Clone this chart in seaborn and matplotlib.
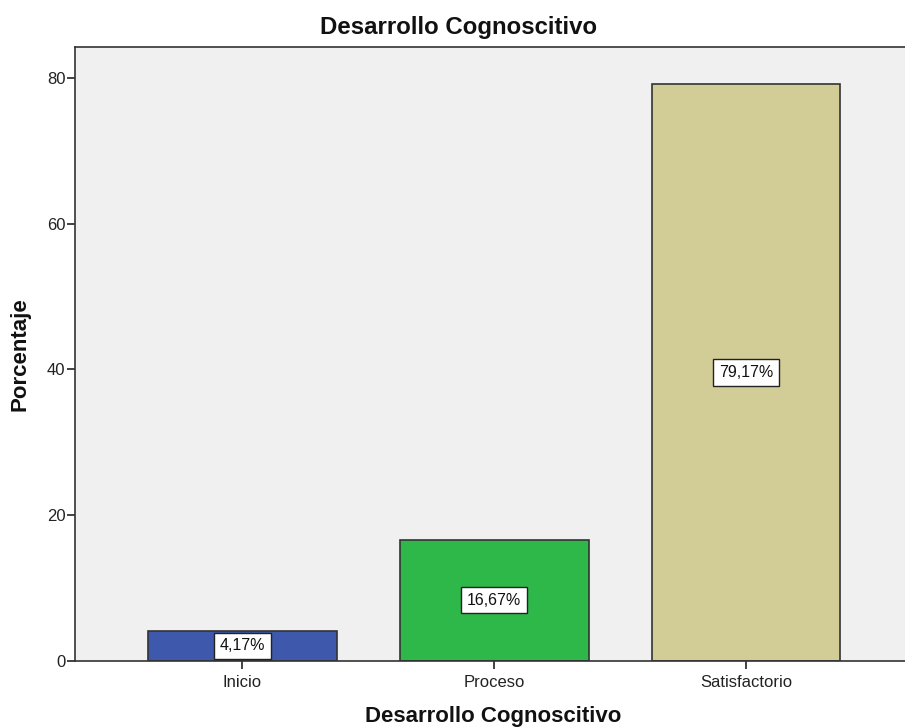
import matplotlib
matplotlib.use("Agg")
import matplotlib.pyplot as plt
import seaborn as sns
import pandas as pd

categories = ["Inicio", "Proceso", "Satisfactorio"]
values = [4.17, 16.67, 79.17]
labels = ["4,17%", "16,67%", "79,17%"]
colors = ["#3e58ac", "#2fb84a", "#d2cd96"]
yticks = [0, 20, 40, 60, 80]

sns.set_theme(style="white")
plt.rcParams['font.family'] = ['Liberation Sans', 'DejaVu Sans']

df = pd.DataFrame({"cat": categories, "val": values})

fig = plt.figure(figsize=(9.05, 7.27), dpi=100)
ax = fig.add_axes([75/905, 1 - 661/727, (913.4 - 75)/905, (661 - 47)/727])
ax.set_facecolor("#f0f0f0")

sns.barplot(data=df, x="cat", y="val", hue="cat", palette=colors, legend=False,
            width=0.75, edgecolor="#333333", linewidth=1.2, ax=ax, saturation=1)

for i, (v, lab) in enumerate(zip(values, labels)):
    ax.text(i, v / 2, lab, ha="center", va="center", fontsize=11.5, color="#111111",
            bbox=dict(boxstyle="square,pad=0.35", facecolor="white", edgecolor="#222222", linewidth=1))

ax.set_xlim(-0.665, 2.665)
ax.set_ylim(0, 84.25)
ax.set_yticks(yticks)
ax.set_yticklabels([str(t) for t in yticks])
ax.tick_params(axis="both", which="both", direction="out", length=6, width=1.2,
               color="#222222", labelsize=12, labelcolor="#222222", pad=1)
ax.tick_params(axis="x", pad=4)
ax.tick_params(left=True, bottom=True)

for s in ["left", "bottom", "top", "right"]:
    ax.spines[s].set_color("#333333")
    ax.spines[s].set_linewidth(1.2)

ax.set_xlabel("")
ax.set_ylabel("")
fig.text(459/905, 1 - 34/727, "Desarrollo Cognoscitivo", ha="center", va="baseline",
         fontsize=17.3, fontweight="bold", color="#111111")
fig.text(493.5/905, 1 - 722/727, "Desarrollo Cognoscitivo", ha="center", va="baseline",
         fontsize=16, fontweight="bold", color="#111111")
fig.text(20/905, 1 - 354/727, "Porcentaje", ha="center", va="center", rotation=90,
         fontsize=16, fontweight="bold", color="#111111")

fig.savefig("out.png", dpi=100)
